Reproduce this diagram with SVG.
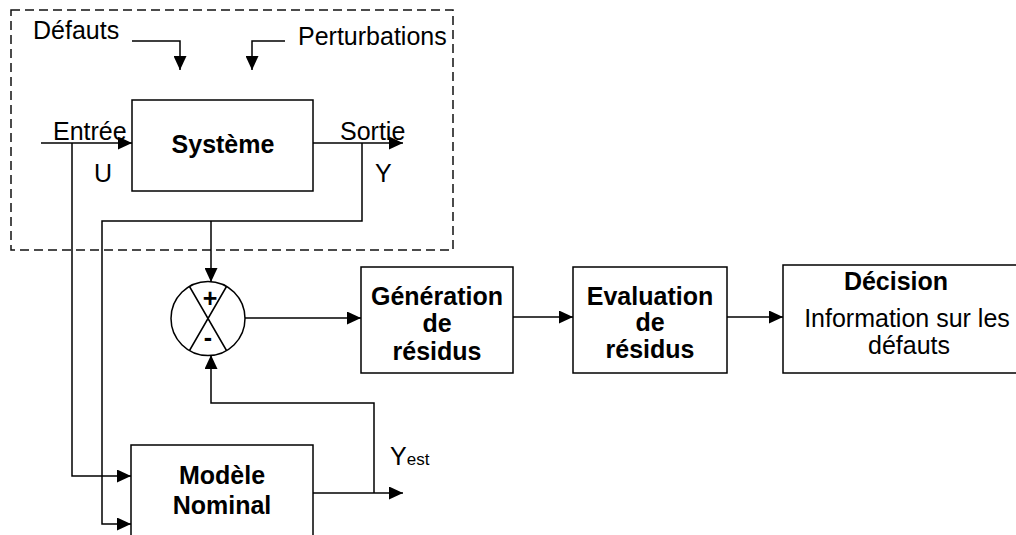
<svg xmlns="http://www.w3.org/2000/svg" width="1016" height="535" viewBox="0 0 1016 535">
<defs>
<marker id="arr" markerUnits="userSpaceOnUse" markerWidth="14" markerHeight="13" refX="14" refY="6.5" orient="auto">
<path d="M0,0 L14,6.5 L0,13 Z" fill="#000"/>
</marker>
<style>
.ln{fill:none;stroke:#000;stroke-width:1.5}
.ca{fill:none;stroke:#000;stroke-width:1.5;marker-end:url(#arr)}
.box{fill:#fff;stroke:#000;stroke-width:1.5}
.t{font-family:"Liberation Sans",Arial,sans-serif;font-size:25px;fill:#000}
.b{font-family:"Liberation Sans",Arial,sans-serif;font-size:25px;font-weight:bold;fill:#000;text-anchor:middle}
</style>
</defs>
<rect width="1016" height="535" fill="#fff"/>
<g id="boundary">
<rect x="11" y="10" width="442" height="240" fill="none" stroke="#111" stroke-width="1.5" stroke-dasharray="9 5"/>
</g>
<g id="connectors">
<path class="ca" d="M132,41 H180 V70"/>
<path class="ca" d="M285,41 H252 V70"/>
<path class="ca" d="M41,143 H132"/>
<path class="ca" d="M313,143 H403"/>
<path class="ca" d="M72,143 V476 H131"/>
<path class="ca" d="M362,143 V221 H102 V524 H131"/>
<path class="ca" d="M211,221 V282"/>
<path class="ca" d="M245,318 H361"/>
<path class="ca" d="M513,317 H573"/>
<path class="ca" d="M727,317 H783"/>
<path class="ca" d="M313,493 H403"/>
<path class="ca" d="M374,493 V403 H211 V355"/>
</g>
<g id="labels">
<text class="t" x="33" y="39">Défauts</text>
<text class="t" x="298" y="45">Perturbations</text>
<text class="t" x="53" y="140">Entrée</text>
<text class="t" x="94" y="182">U</text>
<text class="t" x="340" y="140">Sortie</text>
<text class="t" x="375" y="182">Y</text>
<text class="t" x="390" y="465">Y<tspan font-size="17">est</tspan></text>
</g>
<g id="systeme">
<rect class="box" x="132" y="100" width="181" height="91"/>
<text class="b" x="223" y="153">Système</text>
</g>
<g id="comparateur">
<circle cx="208" cy="318.5" r="37" fill="#fff" stroke="#000" stroke-width="1.5"/>
<path class="ln" d="M189.5,286.5 L226.5,350.5 M226.5,286.5 L189.5,350.5"/>
<text class="b" x="210" y="307">+</text>
<text class="b" x="208" y="346">-</text>
</g>
<g id="generation">
<rect class="box" x="361" y="267" width="152" height="106"/>
<text class="b" x="437" y="305">Génération</text>
<text class="b" x="437" y="332">de</text>
<text class="b" x="437" y="360">résidus</text>
</g>
<g id="evaluation">
<rect class="box" x="573" y="267" width="154" height="106"/>
<text class="b" x="650" y="305">Evaluation</text>
<text class="b" x="650" y="331">de</text>
<text class="b" x="650" y="358">résidus</text>
</g>
<g id="decision">
<rect class="box" x="783" y="265" width="250" height="108"/>
<text class="b" x="896" y="290">Décision</text>
<text class="t" x="907" y="327" text-anchor="middle">Information sur les</text>
<text class="t" x="909" y="354" text-anchor="middle">défauts</text>
</g>
<g id="modele">
<rect class="box" x="131" y="445" width="182" height="100"/>
<text class="b" x="222" y="484">Modèle</text>
<text class="b" x="222" y="514">Nominal</text>
</g>
</svg>
